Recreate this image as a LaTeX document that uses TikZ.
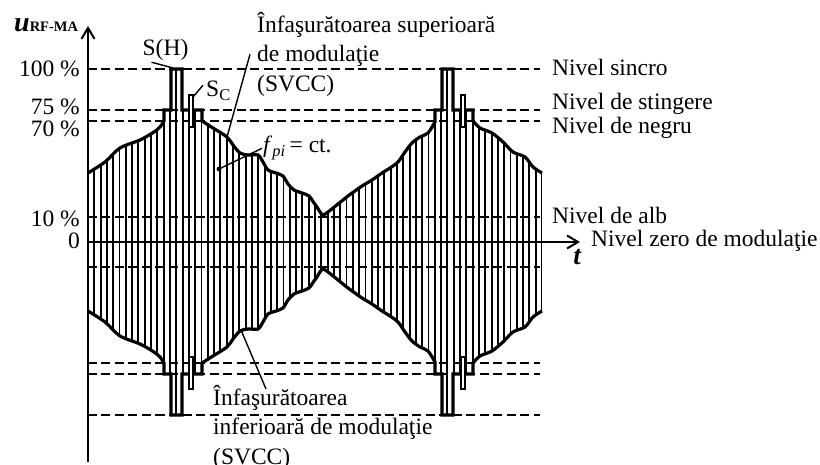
\documentclass[tikz,border=0pt]{standalone}
\usepackage{fontspec}
\setmainfont{Liberation Serif}
\usetikzlibrary{arrows.meta}

\begin{document}
\begin{tikzpicture}[x=1pt,y=1pt,
  font=\fontsize{23.5}{29.5}\selectfont,
  lbl/.style={inner sep=1pt},
  lvl/.style={line width=1.7pt,dash pattern=on 9pt off 4.5pt},
  stripe/.style={line width=1.9pt},
  env/.style={line width=3.2pt},
  ax/.style={line width=2pt,-{Straight Barb[length=11pt,width=13pt]}},
  lead/.style={line width=1.4pt},
  burst/.style={draw,fill=white,line width=1.7pt},
  envelope/.style={insert path={
    -- plot[smooth,tension=0.5] coordinates {(0,69) (17,80) (32,94) (52,102) (66,110) (72,115) (76,121)}
    -- (76,132) -- (83,132) -- (83,173) -- (94,173) -- (94,132) -- (114,132) -- (114,121)
    -- plot[smooth,tension=0.5] coordinates {(114,121) (125,114) (139,105) (145,97) (152,89) (160,87) (170,87)
       (175,80) (180,72) (188,69) (195,66) (200,58) (206,52) (214,49) (221,46) (226,39) (229,35) (232,30) (235,27)
       (240,30) (250,38) (260,46) (267,51) (274,56) (284,62) (294,69) (302,74) (310,80) (317,90) (324,99)
       (332,105) (340,109) (347,120)}
    -- (347,132) -- (354,132) -- (354,173) -- (365,173) -- (365,132) -- (385,132) -- (385,121)
    -- plot[smooth,tension=0.5] coordinates {(385,121) (392,114) (404,109) (415,100) (425,90) (437,85) (445,75) (454,69)}}}]
\useasboundingbox (-88,-223) rectangle (732,242);
\begin{scope}
  \clip (0,0) -- (0,69) [envelope] -- (454,0) -- cycle;
  \foreach \i in {0,...,72} \draw[stripe] ({\i*6.306},0) -- ({\i*6.306},180);
\end{scope}
\begin{scope}[yscale=-1]
  \clip (0,0) -- (0,69) [envelope] -- (454,0) -- cycle;
  \foreach \i in {0,...,72} \draw[stripe] ({\i*6.306},0) -- ({\i*6.306},180);
\end{scope}
\foreach \v in {173,132,121,25,-25,-121,-132,-173} \draw[lvl] (0,\v) -- (452,\v);
\draw[env] (0,69) [envelope];
\draw[env,yscale=-1] (0,69) [envelope];
\draw[burst] (101,115) rectangle (105,147);
\draw[burst] (101,-115) rectangle (105,-147);
\draw[burst] (373,115) rectangle (377,147);
\draw[burst] (373,-115) rectangle (377,-147);
\coordinate (O) at (0,0);
\coordinate (ytop) at (0,216);
\coordinate (ybot) at (0,-220);
\coordinate (xtip) at (492,0);
\draw[ax] (ybot) -- (ytop);
\draw[ax] (O) -- (xtip);
\node[lbl,anchor=base west] (ulbl) at (-75,210) {{\fontsize{28}{28}\selectfont\bfseries\itshape u}{\fontsize{14.5}{14.5}\selectfont\bfseries RF-MA}};
\node[lbl,anchor=base] (tlbl) at (489,-23) {{\fontsize{27}{27}\selectfont\bfseries\itshape t}};
\node[lbl,anchor=base east] (pc100) at (-7,165) {100 \%};
\node[lbl,anchor=base east] (pc75) at (-7,127) {75 \%};
\node[lbl,anchor=base east] (pc70) at (-7,105) {70 \%};
\node[lbl,anchor=base east] (pc10) at (-7,15) {10 \%};
\node[lbl,anchor=base east] (pc0) at (-7,-7) {0};
\node[lbl,anchor=base west] (lvsync) at (463,166) {Nivel sincro};
\node[lbl,anchor=base west] (lvstg) at (463,132) {Nivel de stingere};
\node[lbl,anchor=base west] (lvneg) at (463,108) {Nivel de negru};
\node[lbl,anchor=base west] (lvalb) at (463,18) {Nivel de alb};
\node[lbl,anchor=base west] (lvzero) at (502,-5) {Nivel zero de modulaţie};
\node[lbl,anchor=base] (shlbl) at (77.5,186) {S(H)};
\node[lbl,anchor=base west] (sclbl) at (117,145) {S\textsubscript{C}};
\node[lbl,anchor=north west,align=left] (uplbl) at (168,231) {Înfaşurătoarea superioară\\de modulaţie\\(SVCC)};
\node[lbl,anchor=north west,align=left] (lolbl) at (124,-142) {Înfaşurătoarea\\inferioară de modulaţie\\(SVCC)};
\node[lbl,anchor=base west] (fplbl) at (174,89) {\textit{f}\textsubscript{\textit{pi}}\,= ct.};
\coordinate (shtop) at (85,174);
\coordinate (burstL) at (105,145);
\coordinate (upenv) at (139,105);
\coordinate (loenv) at (153,-88);
\coordinate (fpdot) at (131,73);
\draw[lead] ([xshift=10pt]shlbl.south west) -- (shtop);
\draw[lead] ([shift={(-2pt,-5pt)}]sclbl.north west) -- (burstL);
\draw[lead] ([xshift=-6pt]uplbl.west) -- (upenv);
\draw[lead] (loenv) -- ([shift={(54pt,-5pt)}]lolbl.north west);
\fill (fpdot) circle (2.4pt);
\draw[lead] (fpdot) -- (fplbl.west);
\end{tikzpicture}
\end{document}
